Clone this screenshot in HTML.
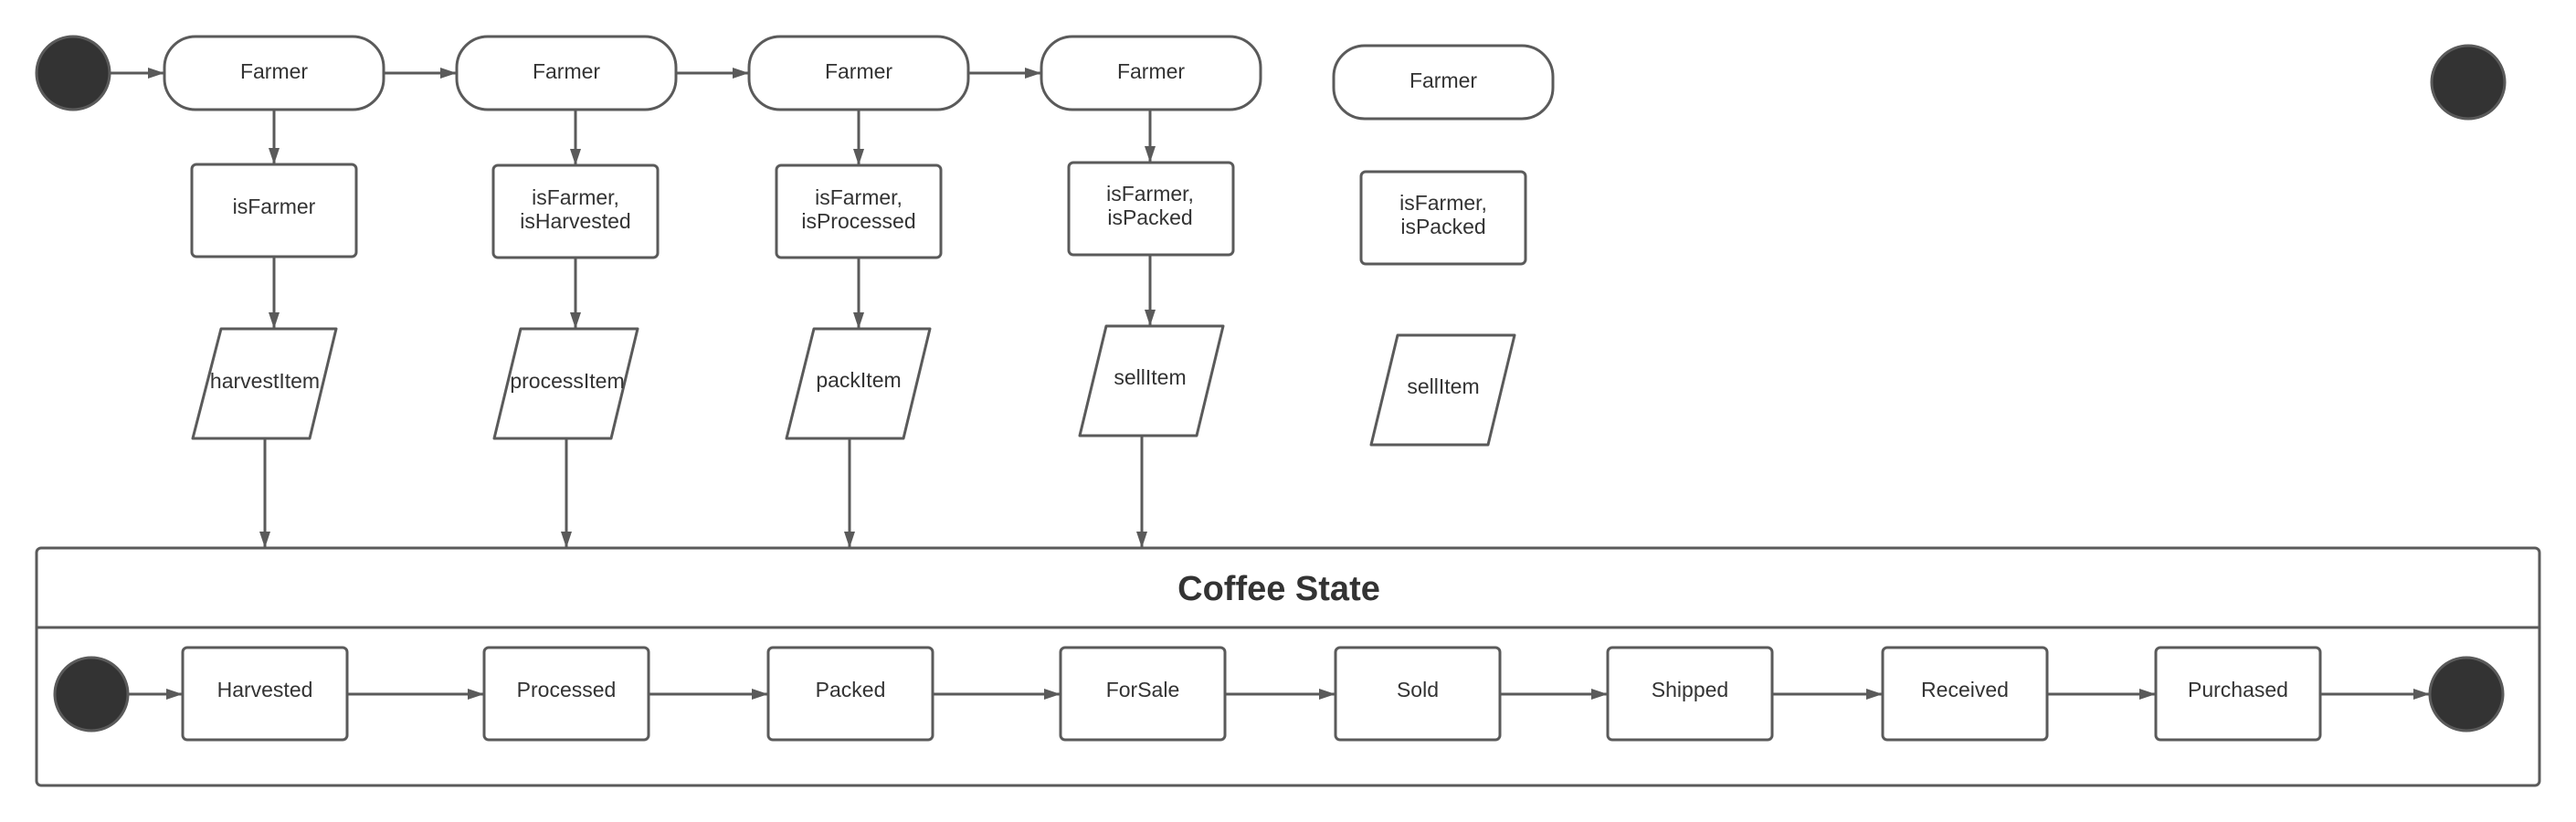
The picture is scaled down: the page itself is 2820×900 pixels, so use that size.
<!DOCTYPE html>
<html><head><meta charset="utf-8"><style>html,body{margin:0;padding:0;background:#fff}svg{display:block}</style></head>
<body>
<svg width="2820" height="900" viewBox="0 0 2820 900" xmlns="http://www.w3.org/2000/svg" font-family="Liberation Sans, sans-serif">
<defs>
<marker id="a" markerWidth="18" markerHeight="12" refX="17" refY="6" orient="auto" markerUnits="userSpaceOnUse">
<path d="M0,0 L18,6 L0,12 z" fill="#5a5a5a"/></marker>
</defs>
<g stroke="#5a5a5a" stroke-width="3" fill="none">
<!-- top row -->
<circle cx="80" cy="80" r="40" fill="#333"/>
<circle cx="2702" cy="90" r="40" fill="#333"/>
<rect x="180" y="40" width="240" height="80" rx="34" fill="#fff"/>
<rect x="500" y="40" width="240" height="80" rx="34" fill="#fff"/>
<rect x="820" y="40" width="240" height="80" rx="34" fill="#fff"/>
<rect x="1140" y="40" width="240" height="80" rx="34" fill="#fff"/>
<rect x="1460" y="50" width="240" height="80" rx="34" fill="#fff"/>
<rect x="210" y="180" width="180" height="101" rx="5" fill="#fff"/>
<rect x="540" y="181" width="180" height="101" rx="5" fill="#fff"/>
<rect x="850" y="181" width="180" height="101" rx="5" fill="#fff"/>
<rect x="1170" y="178" width="180" height="101" rx="5" fill="#fff"/>
<rect x="1490" y="188" width="180" height="101" rx="5" fill="#fff"/>
<path d="M242,360 L368,360 L339,480 L211,480 Z" stroke-linejoin="round" fill="#fff"/>
<path d="M570,360 L698,360 L669,480 L541,480 Z" stroke-linejoin="round" fill="#fff"/>
<path d="M891,360 L1018,360 L989,480 L861,480 Z" stroke-linejoin="round" fill="#fff"/>
<path d="M1211,357 L1339,357 L1310,477 L1182,477 Z" stroke-linejoin="round" fill="#fff"/>
<path d="M1530,367 L1658,367 L1629,487 L1501,487 Z" stroke-linejoin="round" fill="#fff"/>
<!-- top arrows -->
<line x1="120" y1="80" x2="179" y2="80" marker-end="url(#a)"/>
<line x1="420" y1="80" x2="499" y2="80" marker-end="url(#a)"/>
<line x1="740" y1="80" x2="819" y2="80" marker-end="url(#a)"/>
<line x1="1060" y1="80" x2="1139" y2="80" marker-end="url(#a)"/>
<line x1="300" y1="121" x2="300" y2="179" marker-end="url(#a)"/>
<line x1="630" y1="121" x2="630" y2="180" marker-end="url(#a)"/>
<line x1="940" y1="121" x2="940" y2="180" marker-end="url(#a)"/>
<line x1="1259" y1="121" x2="1259" y2="177" marker-end="url(#a)"/>
<line x1="300" y1="282" x2="300" y2="359" marker-end="url(#a)"/>
<line x1="630" y1="283" x2="630" y2="359" marker-end="url(#a)"/>
<line x1="940" y1="283" x2="940" y2="359" marker-end="url(#a)"/>
<line x1="1259" y1="280" x2="1259" y2="356" marker-end="url(#a)"/>
<line x1="290" y1="481" x2="290" y2="599" marker-end="url(#a)"/>
<line x1="620" y1="481" x2="620" y2="599" marker-end="url(#a)"/>
<line x1="930" y1="481" x2="930" y2="599" marker-end="url(#a)"/>
<line x1="1250" y1="478" x2="1250" y2="599" marker-end="url(#a)"/>
<!-- container -->
<rect x="40" y="600" width="2740" height="260" rx="5" fill="none"/>
<line x1="40" y1="687" x2="2780" y2="687"/>
<circle cx="100" cy="760" r="40" fill="#333"/>
<circle cx="2700" cy="760" r="40" fill="#333"/>
<rect x="200" y="709" width="180" height="101" rx="5" fill="#fff"/>
<rect x="530" y="709" width="180" height="101" rx="5" fill="#fff"/>
<rect x="841" y="709" width="180" height="101" rx="5" fill="#fff"/>
<rect x="1161" y="709" width="180" height="101" rx="5" fill="#fff"/>
<rect x="1462" y="709" width="180" height="101" rx="5" fill="#fff"/>
<rect x="1760" y="709" width="180" height="101" rx="5" fill="#fff"/>
<rect x="2061" y="709" width="180" height="101" rx="5" fill="#fff"/>
<rect x="2360" y="709" width="180" height="101" rx="5" fill="#fff"/>
<line x1="140" y1="760" x2="199" y2="760" marker-end="url(#a)"/>
<line x1="380" y1="760" x2="529" y2="760" marker-end="url(#a)"/>
<line x1="710" y1="760" x2="840" y2="760" marker-end="url(#a)"/>
<line x1="1021" y1="760" x2="1160" y2="760" marker-end="url(#a)"/>
<line x1="1341" y1="760" x2="1461" y2="760" marker-end="url(#a)"/>
<line x1="1642" y1="760" x2="1759" y2="760" marker-end="url(#a)"/>
<line x1="1940" y1="760" x2="2060" y2="760" marker-end="url(#a)"/>
<line x1="2241" y1="760" x2="2359" y2="760" marker-end="url(#a)"/>
<line x1="2540" y1="760" x2="2659" y2="760" marker-end="url(#a)"/>
</g>
<g fill="#333" font-size="23" text-anchor="middle">
<text x="300" y="86">Farmer</text>
<text x="620" y="86">Farmer</text>
<text x="940" y="86">Farmer</text>
<text x="1260" y="86">Farmer</text>
<text x="1580" y="96">Farmer</text>
<text x="300" y="234">isFarmer</text>
<text x="630" y="224">isFarmer,</text><text x="630" y="250">isHarvested</text>
<text x="940" y="224">isFarmer,</text><text x="940" y="250">isProcessed</text>
<text x="1259" y="220">isFarmer,</text><text x="1259" y="246">isPacked</text>
<text x="1580" y="230">isFarmer,</text><text x="1580" y="256">isPacked</text>
<text x="290" y="425">harvestItem</text>
<text x="621" y="425">processItem</text>
<text x="940" y="424">packItem</text>
<text x="1259" y="421">sellItem</text>
<text x="1580" y="431">sellItem</text>
<text x="290" y="763">Harvested</text>
<text x="620" y="763">Processed</text>
<text x="931" y="763">Packed</text>
<text x="1251" y="763">ForSale</text>
<text x="1552" y="763">Sold</text>
<text x="1850" y="763">Shipped</text>
<text x="2151" y="763">Received</text>
<text x="2450" y="763">Purchased</text>
<text x="1400" y="657" font-size="38" font-weight="bold">Coffee State</text>
</g>
</svg>
</body></html>
